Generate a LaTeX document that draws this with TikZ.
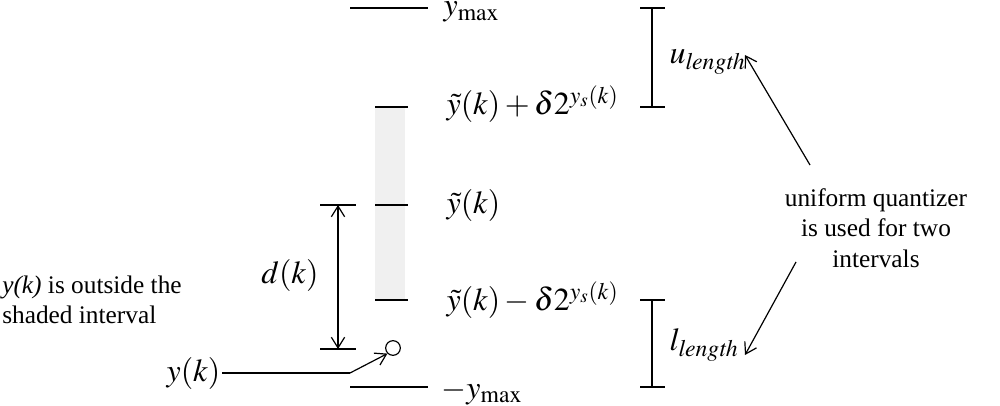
\documentclass[tikz,border=0pt]{standalone}
\usetikzlibrary{arrows.meta}
\usepackage{mathptmx}
\usepackage{fontspec}
\setmainfont{Liberation Serif}
\begin{document}
\begin{tikzpicture}[x=0.75pt,y=-0.75pt,font=\fontsize{19}{23}\selectfont,
  mth/.style={font=\fontsize{24}{28}\selectfont,inner sep=1pt},
  ln/.style={line width=0.9pt},
  arr/.style={line width=0.9pt,-{Straight Barb[length=8pt,width=10pt]}}]
\useasboundingbox (0,0) rectangle (1000,406);
\fill[gray!12] (375,107) rectangle (405,300);
\draw[ln] (350,8) -- (428,8);
\node[mth,anchor=west] (ymax) at (442,12) {$y_{\max}$};
\draw[ln] (350,387) -- (428,387);
\node[mth,anchor=west] (mymax) at (440,392) {$-y_{\max}$};
\draw[ln] (375,107) -- (408,107);
\draw[ln] (375,205) -- (408,205);
\draw[ln] (375,300) -- (408,300);
\node[mth,anchor=west] (up) at (445,104) {$\tilde y(k)+\delta 2^{y_s(k)}$};
\node[mth,anchor=west] (mid) at (445,206) {$\tilde y(k)$};
\node[mth,anchor=west] (lo) at (445,300) {$\tilde y(k)-\delta 2^{y_s(k)}$};
\draw[ln] (640,8) -- (665,8) (652,8) -- (652,107) (640,107) -- (665,107);
\draw[ln] (640,300) -- (665,300) (652,300) -- (652,387) (640,387) -- (665,387);
\node[mth,anchor=west] (ul) at (668,62) {$u_{\mathit{length}}$};
\node[mth,anchor=west] (ll) at (668,345) {$l_{\mathit{length}}$};
\draw[ln] (320,205) -- (356,205) (320,349) -- (356,349);
\coordinate (dt) at (338,205); \coordinate (db) at (338,349);
\draw[arr] (338,275) -- (dt);
\draw[arr] (338,275) -- (db);
\node[mth] (dk) at (290,275) {$d(k)$};
\node[draw,circle,line width=0.9pt,inner sep=0pt,minimum size=11pt] (c) at (393,348) {};
\node[mth,anchor=east] (yk) at (222,373) {$y(k)$};
\coordinate (sw) at (350,373);
\draw[ln] (yk.east) -- (sw);
\draw[arr] (sw) -- (c.south west);
\node[align=left,anchor=west,inner sep=0pt] (note) at (2,300) {\textit{y(k)} is outside the\\shaded interval};
\node[align=center] (uq) at (876,228) {uniform quantizer\\is used for two\\intervals};
\coordinate (a1) at (745,55); \coordinate (a2) at (745,355);
\draw[arr] (810,165) -- (a1);
\draw[arr] (796,262) -- (a2);
\end{tikzpicture}
\end{document}
